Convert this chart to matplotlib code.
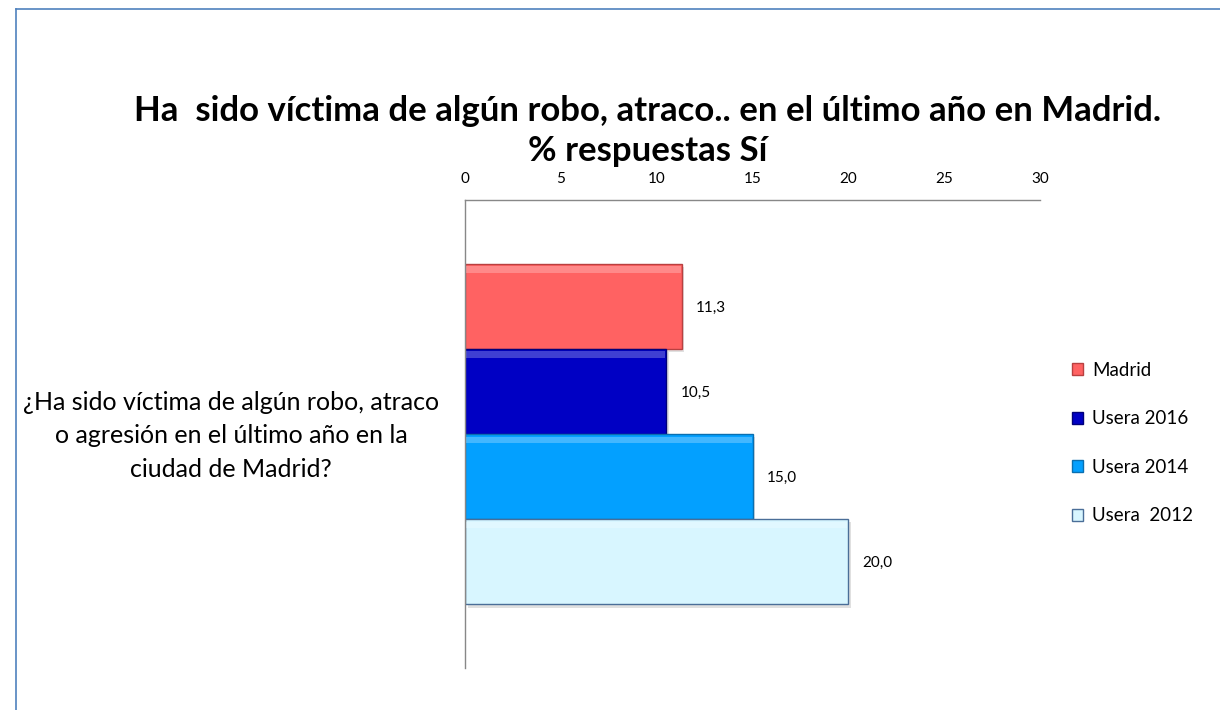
import matplotlib
matplotlib.use("Agg")
import matplotlib.pyplot as plt
from matplotlib.lines import Line2D

W, H = 1220, 710

series = ["Madrid", "Usera 2016", "Usera 2014", "Usera  2012"]
values = [11.3, 10.5, 15.0, 20.0]
question = "¿Ha sido víctima de algún robo, atraco\no agresión en el último año en la\nciudad de Madrid?"
title = "Ha  sido víctima de algún robo, atraco.. en el último año en Madrid.\n% respuestas Sí"
xticks = [0, 5, 10, 15, 20, 25, 30]

colors = ["#FF6262", "#0000C4", "#03A0FF", "#D8F6FF"]
edges = ["#B84040", "#00007A", "#0A6FB0", "#4A6E98"]

plt.rcParams["font.family"] = ["Lato", "DejaVu Sans"]

fig = plt.figure(figsize=(W / 100, H / 100), dpi=100)

# frame line of the chart area (top and left only visible)
fig.add_artist(Line2D([16 / W, 16 / W], [0, 1 - 9 / H], color="#4F81BD", lw=1.2))
fig.add_artist(Line2D([16 / W, 1], [1 - 9 / H, 1 - 9 / H], color="#4F81BD", lw=1.2))

ax = fig.add_axes([465 / W, 1 - 668 / H, (1040 - 465) / W, (668 - 200) / H])

n = len(series)
pos = [(n - 1) / 2 - i for i in range(n)]
for i, (s, v) in enumerate(zip(series, values)):
    # shadow
    ax.barh(pos[i] - 0.04, v, height=1.0, left=0.15, color="#000000", alpha=0.12, zorder=1)
    ax.barh(pos[i], v, height=1.0, color=colors[i], edgecolor=edges[i], lw=1.0,
            label=s, zorder=2)
    # bevel highlight
    ax.barh(pos[i] + 0.43, v - 0.1, height=0.08, left=0.05, color="white", alpha=0.25,
            lw=0, zorder=3)
    ax.text(v + 0.75, pos[i] - 0.02, f"{v:.1f}".replace(".", ","), va="center", ha="left",
            fontsize=11, color="#000000")

ax.set_xlim(0, 30)
ax.set_ylim(-n / 2 - 0.75, n / 2 + 0.75)
ax.xaxis.tick_top()
ax.set_xticks(xticks)
ax.set_xticklabels([str(t) for t in xticks], fontsize=11)
ax.tick_params(axis="x", length=0, pad=10)
ax.set_yticks([])
for sp in ["right", "bottom"]:
    ax.spines[sp].set_visible(False)
for sp in ["top", "left"]:
    ax.spines[sp].set_color("#888888")
    ax.spines[sp].set_linewidth(1.0)

fig.text(231 / W, 1 - 436 / H, question, ha="center", va="center", fontsize=18,
         linespacing=1.55)

fig.text(648 / W, 1 - 131 / H, title, ha="center", va="center", fontsize=25,
         fontweight="bold", linespacing=1.27)

handles, labels = ax.get_legend_handles_labels()
fig.legend(handles, labels, loc="center left", bbox_to_anchor=(1055 / W, 1 - 443 / H),
           frameon=False, fontsize=13.5, handlelength=0.6, handleheight=0.6,
           handletextpad=0.5, labelspacing=1.68)

fig.savefig("out.png", dpi=100, facecolor="white")
